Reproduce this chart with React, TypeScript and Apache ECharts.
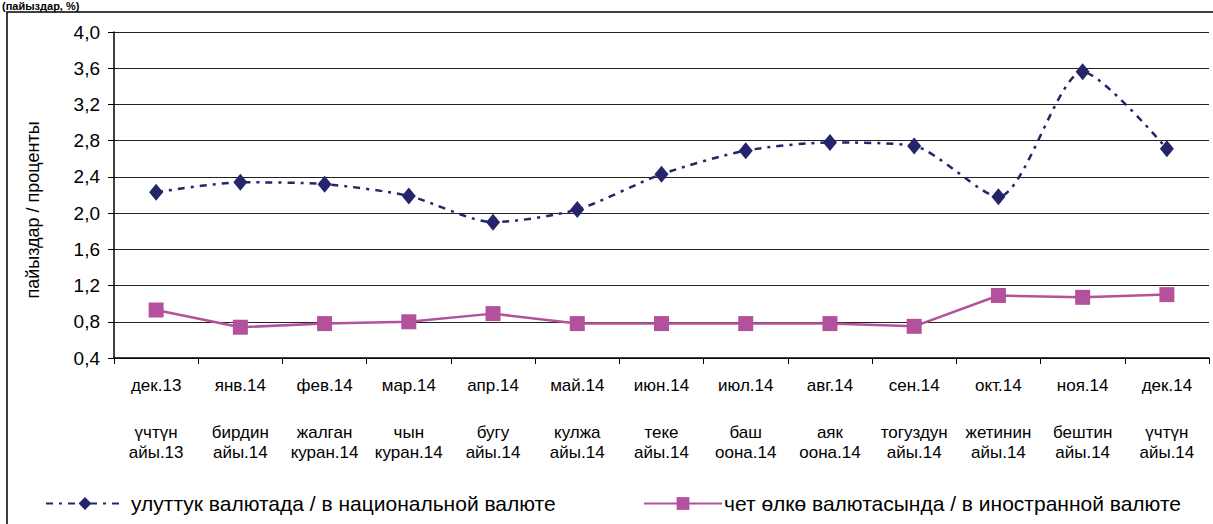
import React, { useEffect, useRef } from "react";
import * as echarts from "echarts";

const months = ["дек.13", "янв.14", "фев.14", "мар.14", "апр.14", "май.14", "июн.14", "июл.14", "авг.14", "сен.14", "окт.14", "ноя.14", "дек.14"];
const kgMonths = ["үчтүн\nайы.13", "бирдин\nайы.14", "жалган\nкуран.14", "чын\nкуран.14", "бугу\nайы.14", "кулжа\nайы.14", "теке\nайы.14", "баш\nоона.14", "аяк\nоона.14", "тогуздун\nайы.14", "жетинин\nайы.14", "бештин\nайы.14", "үчтүн\nайы.14"];
const nationalName = "улуттук валютада / в национальной валюте";
const foreignName = "чет өлкө валютасында / в иностранной валюте";
const national = [2.23, 2.34, 2.32, 2.19, 1.9, 2.04, 2.43, 2.69, 2.78, 2.74, 2.18, 3.56, 2.71];
const foreign = [0.93, 0.74, 0.78, 0.8, 0.89, 0.78, 0.78, 0.78, 0.78, 0.75, 1.09, 1.07, 1.1];
const yMin = 0.4;
const yMax = 4.0;
const yStep = 0.4;
const yName = "пайыздар / проценты";
const topText = "(пайыздар, %)";

const FONT = "'Liberation Sans', Arial, sans-serif";
const NAVY = "#25256c";
const MAGENTA = "#b4519c";

export default function App() {
  const ref = useRef<HTMLDivElement>(null);
  useEffect(() => {
    if (!ref.current) return;
    const chart = echarts.init(ref.current, null, { renderer: "svg" });
    chart.setOption({
      animation: false,
      backgroundColor: "#ffffff",
      textStyle: { fontFamily: FONT },
      graphic: [
        {
          type: "rect",
          shape: { x: 7, y: 12, width: 1230, height: 540 },
          style: { fill: "none", stroke: "#000", lineWidth: 1.5 },
          silent: true,
        },
        {
          type: "text",
          x: 2,
          y: 0,
          style: { text: topText, font: `bold 11px ${FONT}`, fill: "#000", verticalAlign: "top" },
        },
        {
          type: "text",
          x: 33,
          y: 210,
          rotation: Math.PI / 2,
          style: {
            text: yName,
            font: `18px ${FONT}`,
            fill: "#000",
            align: "center",
            verticalAlign: "middle",
          },
        },
      ],
      grid: { left: 114, top: 32, right: 4, bottom: 166, containLabel: false },
      xAxis: [
        {
          type: "category",
          data: months,
          boundaryGap: true,
          axisLine: { lineStyle: { color: "#000", width: 1.5 } },
          axisTick: { show: true, interval: 0, length: 6, lineStyle: { color: "#000" } },
          axisLabel: { interval: 0, margin: 19, fontSize: 17, color: "#000", fontFamily: FONT },
          splitLine: { show: false },
        },
        {
          type: "category",
          data: kgMonths,
          position: "bottom",
          offset: 0,
          boundaryGap: true,
          axisLine: { show: false },
          axisTick: { show: false },
          axisLabel: { interval: 0, margin: 64, fontSize: 17, lineHeight: 20, color: "#000", fontFamily: FONT },
          splitLine: { show: false },
        },
      ],
      yAxis: {
        type: "value",
        min: yMin,
        max: yMax,
        interval: yStep,
        axisLine: { show: true, lineStyle: { color: "#000", width: 1.5 } },
        axisTick: { show: true, length: 6, lineStyle: { color: "#000" } },
        axisLabel: {
          fontSize: 19,
          color: "#000",
          margin: 14,
          fontFamily: FONT,
          formatter: (v: number) => v.toFixed(1).replace(".", ","),
        },
        splitLine: { show: true, lineStyle: { color: "#222", width: 1 } },
      },
      legend: [
        {
          data: [nationalName],
          left: 40,
          top: 488,
          itemWidth: 78,
          itemHeight: 16,
          textStyle: { fontSize: 21, color: "#000", fontFamily: FONT, padding: [0, 0, 0, 2] },
        },
        {
          data: [foreignName],
          left: 638,
          top: 488,
          itemWidth: 78,
          itemHeight: 16,
          textStyle: { fontSize: 21, color: "#000", fontFamily: FONT, padding: [0, 0, 0, -3] },
        },
      ],
      series: [
        {
          name: nationalName,
          type: "line",
          data: national,
          smooth: 0.25,
          symbol: "diamond",
          symbolSize: [14, 17],
          itemStyle: { color: NAVY },
          lineStyle: { color: NAVY, width: 2.5, type: [7, 6, 3, 6] },
          z: 3,
        },
        {
          name: foreignName,
          type: "line",
          data: foreign,
          symbol: "rect",
          symbolSize: 15,
          itemStyle: { color: MAGENTA },
          lineStyle: { color: MAGENTA, width: 2.5 },
          z: 2,
        },
      ],
    });
    return () => chart.dispose();
  }, []);
  return <div ref={ref} style={{ position: "absolute", left: 0, top: 0, width: 1213, height: 524 }} />;
}
